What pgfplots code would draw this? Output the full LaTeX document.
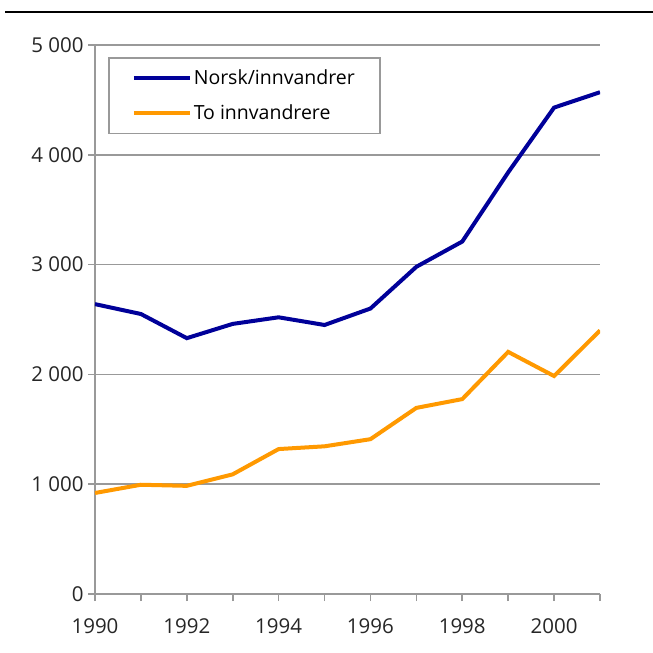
\documentclass[border=0pt]{standalone}
\usepackage{fontspec}
\setmainfont{Open Sans}
\usepackage{pgfplots}
\pgfplotsset{compat=1.18}
\definecolor{navy}{HTML}{000099}
\definecolor{orng}{HTML}{FF9900}
\definecolor{gridg}{HTML}{999999}
\begin{document}
\begin{tikzpicture}
\useasboundingbox (0pt,0pt) rectangle (653pt,653pt);
\draw[line width=2.5pt] (5pt,641pt) -- (653pt,641pt);
\begin{axis}[
  at={(95pt,59pt)}, anchor=origin,
  scale only axis, width=505pt, height=549pt,
  xmin=1990, xmax=2001, ymin=0, ymax=5000,
  axis x line*=bottom, axis y line*=left,
  axis line style={gridg, line width=1.6pt, -},
  xtick={1990,...,2001},
  xticklabels={1990,,1992,,1994,,1996,,1998,,2000,},
  ytick={0,1000,...,5000},
  ymajorgrids, grid style={gridg, line width=1.6pt},
  xtick pos=bottom, ytick pos=left,
  tick align=outside, major tick length=7pt,
  xtick style={draw=gridg, line width=1.6pt},
  ytick style={draw=gridg, line width=1.6pt},
  /pgf/number format/assume math mode=true,
  /pgf/number format/1000 sep={\ },
  ticklabel style={font=\fontsize{20.5}{24}\selectfont, text=black!85},
  xticklabel style={yshift=-14pt},
  yticklabel style={xshift=-1pt},
  legend style={at={(13pt,537pt)}, anchor=north west, draw=gridg, line width=1.6pt,
    font=\fontsize{19.5}{22}\selectfont, inner xsep=23pt, inner ysep=10pt, row sep=15pt},
  legend cell align=left,
  legend image code/.code={\draw[#1, line width=4pt] (0pt,0pt) -- (56pt,0pt);},
]
\addplot[navy, line width=4pt] coordinates {
(1990,2640) (1991,2550) (1992,2330) (1993,2460) (1994,2520) (1995,2450)
(1996,2600) (1997,2980) (1998,3210) (1999,3840) (2000,4430) (2001,4570)};
\addlegendentry{Norsk/innvandrer}
\addplot[orng, line width=4pt] coordinates {
(1990,920) (1991,995) (1992,985) (1993,1090) (1994,1320) (1995,1345)
(1996,1410) (1997,1695) (1998,1775) (1999,2205) (2000,1985) (2001,2400)};
\addlegendentry{To innvandrere}
\end{axis}
\end{tikzpicture}
\end{document}
